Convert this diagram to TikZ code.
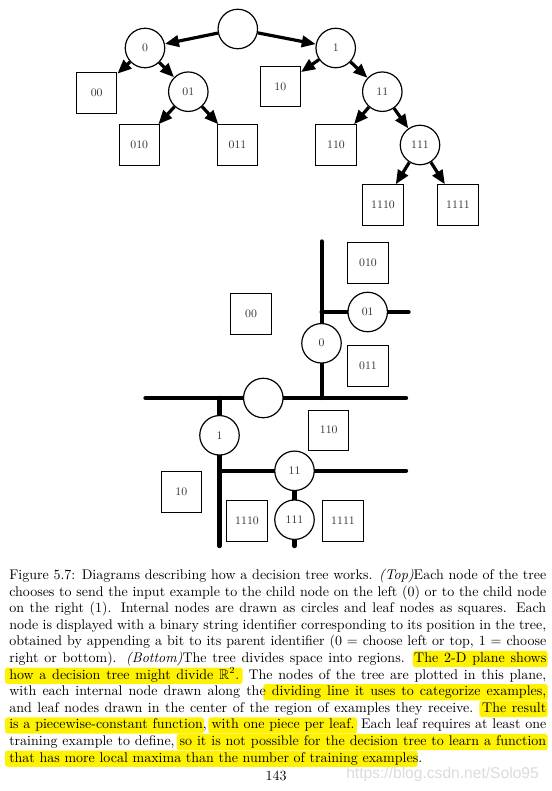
\documentclass[tikz,border=0pt]{standalone}
\usepackage{amssymb}
\usepackage{fontspec}
\newfontfamily\wmfont{Liberation Sans}
\usetikzlibrary{arrows.meta}
\newlength\px
\setlength\px{0.75pt}
\begin{document}
\begin{tikzpicture}[x=0.75pt,y=-0.75pt,
  circ/.style={circle, draw, line width=0.9pt, minimum size=29.6pt, inner sep=0pt, fill=white,
    font=\fontsize{8.6}{10}\selectfont, text=black!80},
  leaf/.style={rectangle, draw, line width=0.9pt, minimum size=30.2pt, inner sep=0pt, fill=white,
    font=\fontsize{8.6}{10}\selectfont, text=black!80},
  tarrow/.style={line width=2.4pt, -{Triangle[length=10.5pt,width=8.5pt]}},
  split/.style={line width=3.3pt, line cap=round},
  hl/.style={fill=yellow, rounded corners=2pt},
  capline/.style={anchor=base west, inner sep=0pt, font=\fontsize{10.5}{12}\selectfont}
]
\useasboundingbox (0,0) rectangle (551,791);

% ---------- top tree ----------
\node[circ] (r) at (237.8,29) {};
\node[circ] (a0) at (145,48) {0};
\node[circ] (a1) at (335.7,48) {1};
\node[leaf] (a00) at (96.7,93) {00};
\node[circ] (a01) at (188.3,91.7) {01};
\node[leaf] (a10) at (280.3,86.5) {10};
\node[circ] (a11) at (382.3,91.7) {11};
\node[leaf] (a010) at (139.3,145) {010};
\node[leaf] (a011) at (237.5,145) {011};
\node[leaf] (a110) at (336,145) {110};
\node[circ] (a111) at (420,145) {111};
\node[leaf] (a1110) at (383,205) {1110};
\node[leaf] (a1111) at (458,205) {1111};

\draw[tarrow] (r) -- (a0);
\draw[tarrow] (r) -- (a1);
\draw[tarrow] (a0) -- (a00);
\draw[tarrow] (a0) -- (a01);
\draw[tarrow] (a01) -- (a010);
\draw[tarrow] (a01) -- (a011);
\draw[tarrow] (a1) -- (a10);
\draw[tarrow] (a1) -- (a11);
\draw[tarrow] (a11) -- (a110);
\draw[tarrow] (a11) -- (a111);
\draw[tarrow] (a111) -- (a1110);
\draw[tarrow] (a111) -- (a1111);

% ---------- bottom plane ----------
\coordinate (bL) at (145.5,398);
\coordinate (bR) at (406,398);
\coordinate (v0t) at (321.7,241.5);
\coordinate (v0b) at (321.7,398);
\coordinate (h01l) at (321.7,312);
\coordinate (h01r) at (408.5,312);
\coordinate (v1t) at (219.5,398);
\coordinate (v1b) at (219.5,546);
\coordinate (h11l) at (219.5,470.8);
\coordinate (h11r) at (406,470.8);
\coordinate (v111t) at (294.5,470.8);
\coordinate (v111b) at (294.5,546);

\draw[split] (bL) -- (bR);
\draw[split] (v0t) -- (v0b);
\draw[split] (h01l) -- (h01r);
\draw[split] (v1t) -- (v1b);
\draw[split] (h11l) -- (h11r);
\draw[split] (v111t) -- (v111b);

\node[circ] (b) at (263.3,398) {};
\node[circ] (b0) at (321.5,343.3) {0};
\node[circ] (b01) at (367.7,312) {01};
\node[circ] (b1) at (219.5,435.3) {1};
\node[circ] (b11) at (294.5,470.8) {11};
\node[circ] (b111) at (294.5,519.7) {111};
\node[leaf] (b010) at (368,263) {010};
\node[leaf] (b00) at (251,314) {00};
\node[leaf] (b011) at (368,366) {011};
\node[leaf] (b110) at (328.7,430.3) {110};
\node[leaf] (b10) at (181.3,492) {10};
\node[leaf] (b1110) at (247,521) {1110};
\node[leaf] (b1111) at (343,521) {1111};

% ---------- highlights ----------
\fill[hl] (412.7,650.9) rectangle (547.7,667.2);
\fill[hl] (5,667.5) rectangle (242.7,683.8);
\fill[hl] (263.3,684.1) rectangle (547.7,700.4);
\fill[hl] (479.3,700.7) rectangle (547.7,717.0);
\fill[hl] (5,717.3) rectangle (204,733.6);
\fill[hl] (208.3,717.3) rectangle (357,733.6);
\fill[hl] (176.7,733.9) rectangle (547.7,750.2);
\fill[hl] (5,750.5) rectangle (417.7,766.8);

% ---------- caption ----------
\node[capline] (l1) at (9,579.4) {\makebox[537\px][s]{Figure 5.7: Diagrams describing how a decision tree works. \textit{(Top)}Each node of the tree}};
\node[capline] (l2) at (9,596.0) {\makebox[537\px][s]{chooses to send the input example to the child node on the left (0) or to the child node}};
\node[capline] (l3) at (9,612.6) {\makebox[537\px][s]{on the right (1). Internal nodes are drawn as circles and leaf nodes as squares. Each}};
\node[capline] (l4) at (9,629.2) {\makebox[537\px][s]{node is displayed with a binary string identifier corresponding to its position in the tree,}};
\node[capline] (l5) at (9,645.8) {\makebox[537\px][s]{obtained by appending a bit to its parent identifier (0 = choose left or top, 1 = choose}};
\node[capline] (l6) at (9,662.4) {\makebox[537\px][s]{right or bottom). \textit{(Bottom)}The tree divides space into regions. The 2-D plane shows}};
\node[capline] (l7) at (9,679.0) {\makebox[537\px][s]{how a decision tree might divide $\mathbb{R}^2$. The nodes of the tree are plotted in this plane,}};
\node[capline] (l8) at (9,695.6) {\makebox[537\px][s]{with each internal node drawn along the dividing line it uses to categorize examples,}};
\node[capline] (l9) at (9,712.2) {\makebox[537\px][s]{and leaf nodes drawn in the center of the region of examples they receive. The result}};
\node[capline] (l10) at (9,728.8) {\makebox[537\px][s]{is a piecewise-constant function, with one piece per leaf. Each leaf requires at least one}};
\node[capline] (l11) at (9,745.4) {\makebox[537\px][s]{training example to define, so it is not possible for the decision tree to learn a function}};
\node[capline] (l12) at (9,762.0) {that has more local maxima than the number of training examples.};

\node[capline, anchor=base] (pg) at (276,780) {143};
\node[anchor=base west, inner sep=0pt, text=gray!28] (wm) at (346,778)
  {\wmfont\fontsize{11.7}{14}\selectfont https://blog.csdn.net/Solo95};
\end{tikzpicture}
\end{document}
